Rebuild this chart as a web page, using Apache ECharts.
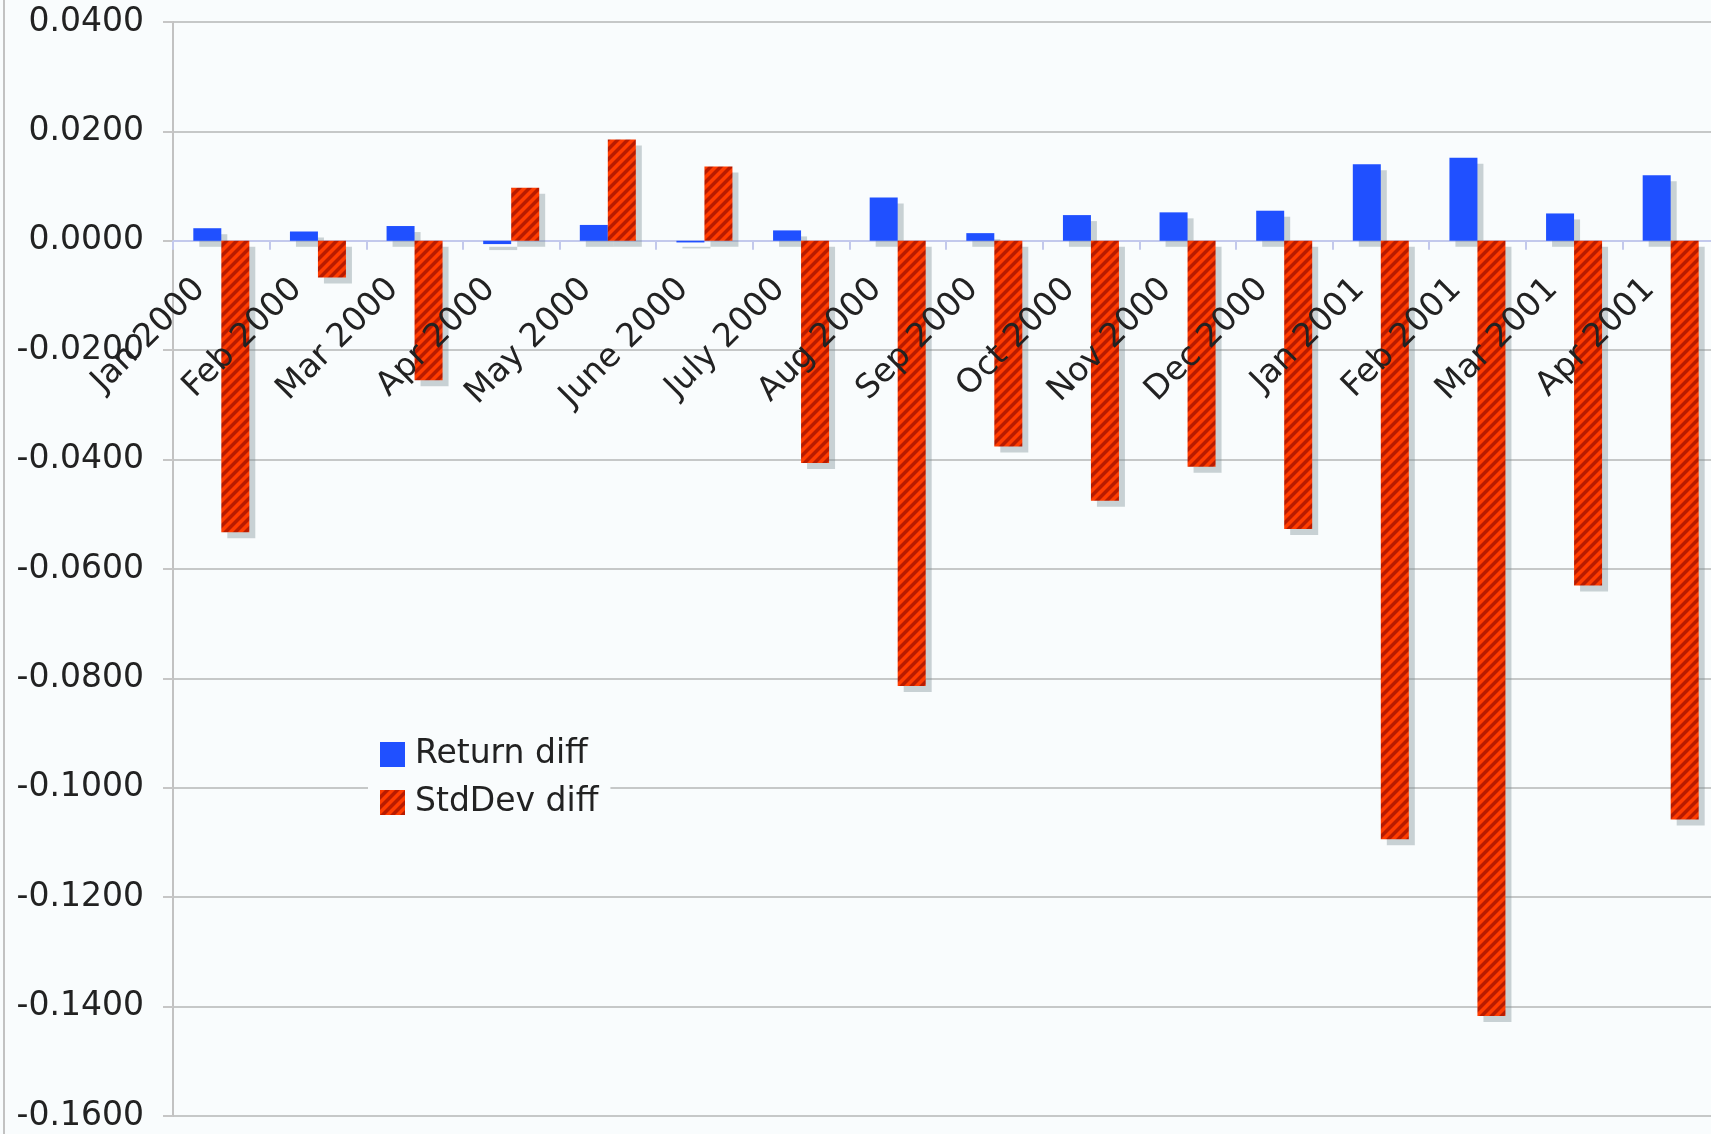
<!DOCTYPE html>
<html>
<head>
<meta charset="utf-8">
<script src="https://cdn.jsdelivr.net/npm/echarts@6/dist/echarts.min.js"></script>
<style>
  html, body { margin: 0; padding: 0; background: #f9fcfd; }
  #chart { width: 1711px; height: 1134px; }
</style>
</head>
<body>
<div id="chart"></div>
<script>
const categories = ['Jan 2000', 'Feb 2000', 'Mar 2000', 'Apr 2000', 'May 2000', 'June 2000', 'July 2000', 'Aug 2000',
  'Sep 2000', 'Oct 2000', 'Nov 2000', 'Dec 2000', 'Jan 2001', 'Feb 2001', 'Mar 2001', 'Apr 2001'];
const returnDiff = [0.0023, 0.0017, 0.0027, -0.0006, 0.0029, -0.0003, 0.0019, 0.0079,
  0.0014, 0.0047, 0.0052, 0.0055, 0.0140, 0.0152, 0.0050, 0.0120];
const stdDevDiff = [-0.0533, -0.0067, -0.0255, 0.0097, 0.0185, 0.0136, -0.0406, -0.0814,
  -0.0376, -0.0475, -0.0413, -0.0527, -0.1094, -0.1417, -0.0630, -0.1058];
const seriesNames = ['Return diff', 'StdDev diff'];

const FONT = 'DejaVu Sans';
const BG = '#f9fcfd';

// diagonal stripe pattern ("/") for the StdDev bars
function makeStripes() {
  const P = 10;
  const c = document.createElement('canvas');
  c.width = P; c.height = P;
  const g = c.getContext('2d');
  for (let y = 0; y < P; y++) {
    for (let x = 0; x < P; x++) {
      const k = (x + y) % P;
      let col = '#b81b00';
      if (k < 4) col = '#ff3c00';
      else if (k === 4 || k === P - 1) col = '#dc2c00';
      g.fillStyle = col;
      g.fillRect(x, y, 1, 1);
    }
  }
  return c;
}
const stripes = makeStripes();

const chart = echarts.init(document.getElementById('chart'), null, { renderer: 'canvas' });

const shadow = {
  shadowColor: 'rgba(120,140,145,0.38)',
  shadowBlur: 0,
  shadowOffsetX: 6,
  shadowOffsetY: 6
};

const GRID = { left: 173, right: -8, top: 22, bottom: 18 };

function buildOption(xOffset) {
  const labelStyle = {
    rotate: 45,
    interval: 0,
    margin: 22,
    padding: [0, 30, 0, 0],
    fontFamily: FONT,
    fontSize: 33,
    color: '#222'
  };
  return {
    animation: false,
    backgroundColor: BG,
    graphic: [{
      type: 'line',
      shape: { x1: 4, y1: 0, x2: 4, y2: 1134 },
      style: { stroke: '#c2c2c2', lineWidth: 2 },
      z: 100
    }],
    grid: Object.assign({ containLabel: false, outerBoundsMode: 'none' }, GRID),
    legend: {
      orient: 'vertical',
      left: 368,
      top: 732,
      padding: [6, 12, 6, 12],
      backgroundColor: BG,
      itemWidth: 25,
      itemHeight: 25,
      itemGap: 15,
      icon: 'rect',
      itemStyle: { shadowColor: 'transparent', shadowOffsetX: 0, shadowOffsetY: 0, shadowBlur: 0 },
      textStyle: { fontFamily: FONT, fontSize: 33, color: '#222', padding: [0, 0, 0, 5] },
      data: seriesNames
    },
    xAxis: [
      {
        // axis line and ticks (under the bars)
        type: 'category',
        data: categories,
        offset: xOffset,
        z: 0,
        axisLine: { onZero: false, lineStyle: { color: '#c3c9ec', width: 2 } },
        axisTick: { show: true, alignWithLabel: false, length: 9, lineStyle: { color: '#c3c9ec', width: 2 } },
        axisLabel: { show: false },
        splitLine: { show: false }
      },
      {
        // category labels (drawn over the bars)
        type: 'category',
        data: categories,
        position: 'bottom',
        offset: xOffset,
        z: 6,
        axisLine: { show: false, onZero: false },
        axisTick: { show: false },
        axisLabel: labelStyle,
        splitLine: { show: false }
      }
    ],
    yAxis: {
      type: 'value',
      min: -0.16,
      max: 0.04,
      interval: 0.02,
      axisLine: { show: true, lineStyle: { color: '#c2c2c2', width: 2 } },
      axisTick: { show: true, length: 10, lineStyle: { color: '#c6c6c6', width: 2 } },
      axisLabel: {
        margin: 29,
        fontFamily: FONT,
        fontSize: 33,
        color: '#222',
        formatter: function (v) { return (Math.abs(v) < 1e-10 ? 0 : v).toFixed(4); }
      },
      splitLine: { show: true, lineStyle: { color: '#c6c8c8', width: 2 } }
    },
    series: [
      {
        name: seriesNames[0],
        type: 'bar',
        xAxisIndex: 0,
        data: returnDiff,
        barWidth: 28,
        barGap: '0%',
        itemStyle: Object.assign({ color: '#2050ff' }, shadow)
      },
      {
        name: seriesNames[1],
        type: 'bar',
        xAxisIndex: 0,
        data: stdDevDiff,
        barWidth: 28,
        barGap: '0%',
        itemStyle: Object.assign({ color: { image: stripes, repeat: 'repeat' } }, shadow)
      }
    ]
  };
}

chart.setOption(buildOption(0));
// move the category axis (line, ticks and labels) onto the zero value line
const zeroY = chart.convertToPixel({ yAxisIndex: 0 }, 0);
const bottomY = 1134 - GRID.bottom;
chart.setOption(buildOption(zeroY - bottomY));
</script>
</body>
</html>
